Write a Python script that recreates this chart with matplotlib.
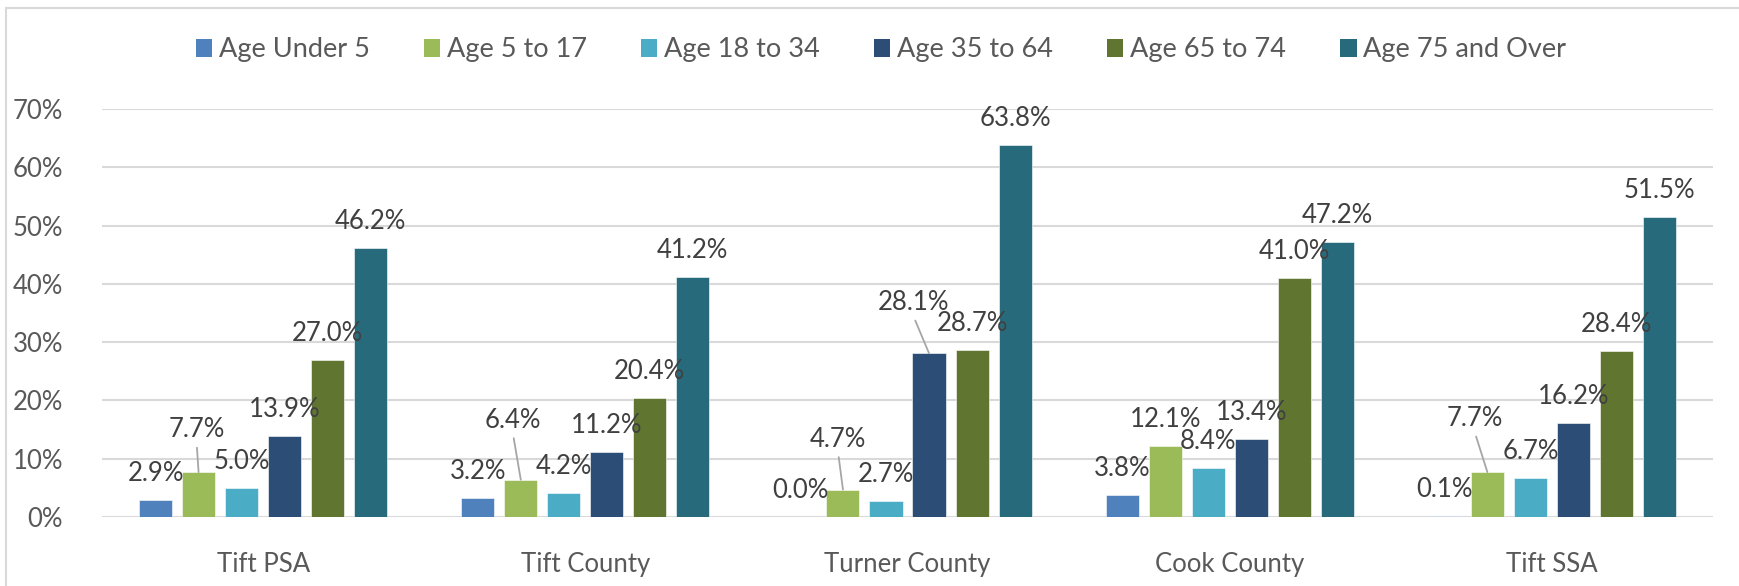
import matplotlib
matplotlib.use("Agg")
import matplotlib.pyplot as plt
from matplotlib.patches import Rectangle, Patch
import numpy as np

# data
areas = ["Tift PSA", "Tift County", "Turner County", "Cook County", "Tift SSA"]
age_groups = ["Age Under 5", "Age 5 to 17", "Age 18 to 34", "Age 35 to 64",
              "Age 65 to 74", "Age 75 and Over"]
under_5 = [2.9, 3.2, 0.0, 3.8, 0.1]
age_5_17 = [7.7, 6.4, 4.7, 12.1, 7.7]
age_18_34 = [5.0, 4.2, 2.7, 8.4, 6.7]
age_35_64 = [13.9, 11.2, 28.1, 13.4, 16.2]
age_65_74 = [27.0, 20.4, 28.7, 41.0, 28.4]
age_75_up = [46.2, 41.2, 63.8, 47.2, 51.5]
series = [under_5, age_5_17, age_18_34, age_35_64, age_65_74, age_75_up]

colors = ["#4F81BD", "#9BBB59", "#4BACC6", "#2C4D75", "#5F7530", "#276A7C"]

# labels moved off their default spot (series index, area index) -> (dx, extra dy) in px,
# these get a leader line back to the bar
moved = {(1, 0): (-2, 16), (1, 1): (-8, 33), (1, 2): (-5, 24),
         (3, 2): (-16, 24), (1, 4): (-13, 27)}

plt.rcParams['font.family'] = ['Lato', 'DejaVu Sans']

fig = plt.figure(figsize=(17.39, 5.86), dpi=100)
ax = fig.add_axes([102 / 1739, 1 - 517 / 586, 1611 / 1739, 408 / 586])

x = np.arange(len(areas))
width = 0.1025
step = 0.1335

for i, vals in enumerate(series):
    pos = x + (i - 2.5) * step
    ax.bar(pos, np.array(vals) / 100, width, color=colors[i], edgecolor="white",
           linewidth=0.4, zorder=2)
    for j, v in enumerate(vals):
        dx, dy = moved.get((i, j), (0, 0))
        props = None
        if (i, j) in moved:
            props = dict(arrowstyle="-", color="#A6A6A6", lw=1.3, relpos=(0.5, 0),
                         shrinkA=2, shrinkB=0)
        ax.annotate(f"{v:.1f}%", xy=(pos[j], v / 100), xytext=(dx, 19 + dy),
                    textcoords="offset pixels", ha="center", va="baseline",
                    fontsize=18.5, color="#404040", arrowprops=props, zorder=3)

ax.set_xlim(-0.5, len(areas) - 0.5)
ax.set_ylim(0, 0.7)
ax.set_yticks(np.arange(0, 0.71, 0.1))
ax.set_yticklabels([f"{int(round(t * 100))}%" for t in np.arange(0, 0.71, 0.1)])
ax.set_xticks(x)
ax.set_xticklabels(areas)
ax.tick_params(axis="both", length=0, labelsize=18.5, colors="#595959")
ax.tick_params(axis="y", pad=28)
ax.tick_params(axis="x", pad=25)
ax.grid(axis="y", color="#D9D9D9", linewidth=1.5, zorder=0)
ax.set_axisbelow(True)
for s in ax.spines.values():
    s.set_visible(False)

handles = [Patch(facecolor=c, label=l) for c, l in zip(colors, age_groups)]
fig.legend(handles=handles, loc="center", bbox_to_anchor=(881 / 1739, 1 - 50 / 586),
           ncol=6, frameon=False, fontsize=19.5, labelcolor="#595959",
           handlelength=0.6, handleheight=0.6, handletextpad=0.25, columnspacing=2.0)

# outer chart border
fig.patches.append(Rectangle((6 / 1739, -0.1), 1.2, 1.1 - 8 / 586, transform=fig.transFigure,
                             fill=False, edgecolor="#D9D9D9", linewidth=1.5))

fig.savefig("out.png", dpi=100)
